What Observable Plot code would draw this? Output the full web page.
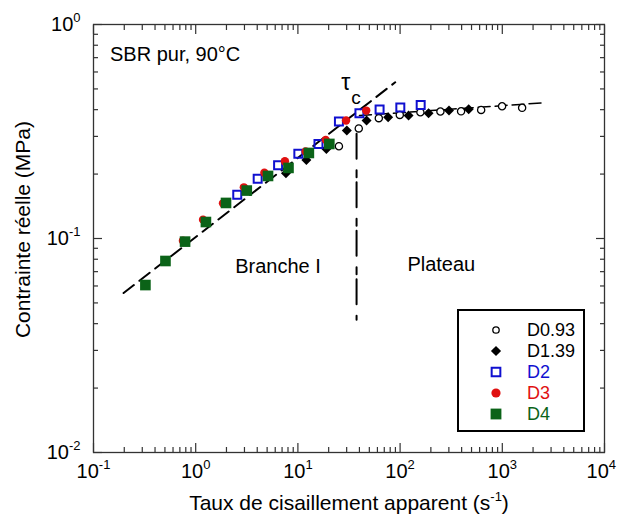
<!DOCTYPE html>
<html>
<head>
<meta charset="utf-8">
<script src="https://cdn.jsdelivr.net/npm/d3@7"></script>
<script src="https://cdn.jsdelivr.net/npm/@observablehq/plot@0.6"></script>
<style>
  body { margin: 0; background: #fff; }
  #wrap { position: relative; width: 617px; height: 515px; font-family: "Liberation Sans", Arial, sans-serif; }
  #legend { position: absolute; left: 457px; top: 309px; width: 128px; height: 123px; box-sizing: border-box; border: 2px solid #000; background: #fff; }
  #legend .row { position: absolute; left: 0; width: 124px; height: 20px; }
  #legend svg { position: absolute; left: 27px; top: 0; }
  #legend span { position: absolute; left: 68px; top: 0; font-size: 18px; line-height: 20px; white-space: nowrap; }
</style>
</head>
<body>
<div id="wrap"></div>
<script>
// ---- data ----
const seriesNames = ["D0.93", "D1.39", "D2", "D3", "D4"];
const xD093 = [25.2, 39.4, 61.9, 99.3, 158, 248, 395, 621, 995, 1563];
const yD093 = [0.270, 0.327, 0.365, 0.378, 0.389, 0.392, 0.393, 0.399, 0.415, 0.408];
const xD139 = [7.64, 12.1, 19.0, 30.1, 47.0, 76.4, 121, 190, 301, 469];
const yD139 = [0.2016, 0.2329, 0.2622, 0.3194, 0.3557, 0.3685, 0.3753, 0.3846, 0.396, 0.4017];
const xD2 = [2.55, 4.04, 6.4, 10.1, 15.9, 25.2, 40, 63, 100.5, 159];
const yD2 = [0.1603, 0.19, 0.2198, 0.2486, 0.2767, 0.3518, 0.3846, 0.4003, 0.409, 0.421];
const xD3 = [0.75, 1.18, 1.85, 2.96, 4.7, 7.46, 11.9, 18.7, 29.6, 46.6];
const yD3 = [0.0977, 0.1225, 0.146, 0.1734, 0.203, 0.2295, 0.255, 0.289, 0.356, 0.396];
const xD4 = [0.322, 0.506, 0.787, 1.259, 1.98, 3.16, 5.1, 8.09, 12.8, 20.3];
const yD4 = [0.0606, 0.0785, 0.0967, 0.1194, 0.1466, 0.1675, 0.196, 0.2137, 0.251, 0.2766];

// fitted lines
const branchX = [0.197, 89.6];
const branchY = [0.0556, 0.537];
const plateauX = [40, 2478];
const plateauY = [0.3754, 0.4303];
const tauCX = [37.5, 37.5];
const tauCY = [0.309, 0.0417];

// tick values
const xMajor = [0.1, 1, 10, 100, 1000, 10000];
const yMajor = [0.01, 0.1, 1];
const xMinor = [-1, 0, 1, 2, 3].flatMap(k => [2, 3, 4, 5, 6, 7, 8, 9].map(m => m * 10 ** k));
const yMinor = [-2, -1].flatMap(k => [2, 3, 4, 5, 6, 7, 8, 9].map(m => m * 10 ** k));

// texts
const xTitle = "Taux de cisaillement apparent (s^{-1})";
const yTitle = "Contrainte réelle (MPa)";
const sampleLabel = "SBR pur, 90°C";
const regionLabels = [
  {text: "Branche I", x: 6.39, y: 0.074},
  {text: "Plateau", x: 253, y: 0.0752}
];
const tauLabel = {text: "τ", x: 29.5, y: 0.535};
const tauSub = {text: "c", x: 37, y: 0.452};

// ---- build tables ----
const seriesX = [xD093, xD139, xD2, xD3, xD4];
const seriesY = [yD093, yD139, yD2, yD3, yD4];
const tables = seriesNames.map((name, i) => seriesX[i].map((x, j) => ({series: name, x, y: seriesY[i][j]})));
const pairs = (xs, ys) => xs.map((x, i) => ({x, y: ys[i]}));

// ---- styles ----
const BLUE = "#1010d0", RED = "#e01010", GREEN = "#0b6318";
const styles = [
  {symbol: "circle", r: 3.6, fill: "white", stroke: "black", strokeWidth: 1.3, text: "black", lr: 3.2},
  {symbol: "diamond2", r: 4.5, fill: "black", stroke: "none", strokeWidth: 0, text: "black", lr: 4.6},
  {symbol: "square", r: 4.5, fill: "none", stroke: BLUE, strokeWidth: 2, text: BLUE, lr: 4.9},
  {symbol: "circle", r: 4.2, fill: RED, stroke: "none", strokeWidth: 0, text: RED, lr: 4.6},
  {symbol: "square", r: 6, fill: GREEN, stroke: "none", strokeWidth: 0, text: GREEN, lr: 6.1}
];

const supFmt = d => "10^{" + Math.round(Math.log10(d)) + "}";
const TICK = "#333";

const plot = Plot.plot({
  width: 617,
  height: 515,
  marginLeft: 93,
  marginRight: 13,
  marginTop: 24,
  marginBottom: 63,
  style: {fontFamily: "'Liberation Sans', Arial, sans-serif", fontSize: "20px", color: "black", background: "white"},
  x: {type: "log", domain: [0.1, 10000]},
  y: {type: "log", domain: [0.01, 1]},
  marks: [
    // fit lines
    Plot.line(pairs(branchX, branchY), {x: "x", y: "y", stroke: "black", strokeWidth: 2, strokeDasharray: "13,7"}),
    Plot.line(pairs(plateauX, plateauY), {x: "x", y: "y", stroke: "black", strokeWidth: 1.5, strokeDasharray: "12,5"}),
    Plot.line(pairs(tauCX, tauCY), {x: "x", y: "y", stroke: "black", strokeWidth: 2, strokeDasharray: "25,11.5,7,5"}),
    // data points
    ...tables.map((t, i) => Plot.dot(t, {
      x: "x", y: "y", symbol: () => styles[i].symbol, r: styles[i].r,
      fill: styles[i].fill, stroke: styles[i].stroke, strokeWidth: styles[i].strokeWidth
    })),
    // tick labels
    Plot.axisX(xMajor, {anchor: "bottom", tickSize: 0, tickPadding: 11, tickFormat: supFmt, label: null, fontSize: 20}),
    Plot.axisY(yMajor, {anchor: "left", tickSize: 0, tickPadding: 13, tickFormat: supFmt, label: null, fontSize: 20}),
    // inward ticks on four sides
    Plot.axisX(xMajor, {anchor: "bottom", tickSize: 9, dy: -9, fill: "none", label: null, stroke: TICK, strokeWidth: 1.2}),
    Plot.axisX(xMinor, {anchor: "bottom", tickSize: 5, dy: -5, fill: "none", label: null, stroke: TICK, strokeWidth: 1.2}),
    Plot.axisX(xMajor, {anchor: "top", tickSize: 9, dy: 9, fill: "none", label: null, stroke: TICK, strokeWidth: 1.2}),
    Plot.axisX(xMinor, {anchor: "top", tickSize: 5, dy: 5, fill: "none", label: null, stroke: TICK, strokeWidth: 1.2}),
    Plot.axisY(yMajor, {anchor: "left", tickSize: 9, dx: 9, fill: "none", label: null, stroke: TICK, strokeWidth: 1.2}),
    Plot.axisY(yMinor, {anchor: "left", tickSize: 5, dx: 5, fill: "none", label: null, stroke: TICK, strokeWidth: 1.2}),
    Plot.axisY(yMajor, {anchor: "right", tickSize: 9, dx: -9, fill: "none", label: null, stroke: TICK, strokeWidth: 1.2}),
    Plot.axisY(yMinor, {anchor: "right", tickSize: 5, dx: -5, fill: "none", label: null, stroke: TICK, strokeWidth: 1.2}),
    Plot.frame({stroke: TICK, strokeWidth: 1.3}),
    // titles
    Plot.text([xTitle], {frameAnchor: "bottom", dy: 51, fontSize: 21, textAnchor: "middle", lineAnchor: "middle"}),
    Plot.text([yTitle], {frameAnchor: "left", rotate: -90, dx: -70.5, dy: -9, fontSize: 21, textAnchor: "middle", lineAnchor: "middle"}),
    Plot.text([sampleLabel], {frameAnchor: "top-left", dx: 16.5, dy: 22.7, fontSize: 20, textAnchor: "start", lineAnchor: "top"}),
    Plot.text(regionLabels, {x: "x", y: "y", text: "text", fontSize: 20, lineAnchor: "middle"}),
    Plot.text([tauLabel], {x: "x", y: "y", text: "text", fontSize: 23, lineAnchor: "middle"}),
    Plot.text([tauSub], {x: "x", y: "y", text: "text", fontSize: 19, lineAnchor: "middle"})
  ]
});

// superscripts: "a^{b}c" -> tspans
const NS = "http://www.w3.org/2000/svg";
plot.querySelectorAll("text").forEach(t => {
  const s = t.textContent;
  if (!s.includes("^{")) return;
  t.textContent = "";
  const rise = 9;
  let raised = false;
  s.split(/(\^\{[^}]*\})/).filter(p => p).forEach(p => {
    const ts = document.createElementNS(NS, "tspan");
    if (p.startsWith("^{")) {
      ts.textContent = p.slice(2, -1);
      ts.setAttribute("font-size", "13");
      ts.setAttribute("dy", -rise);
      raised = true;
    } else {
      ts.textContent = p;
      if (raised) { ts.setAttribute("dy", rise); raised = false; }
    }
    t.appendChild(ts);
  });
});

const wrap = document.getElementById("wrap");
wrap.appendChild(plot);

// keep texts inside the picture's right edge
const box = plot.getBoundingClientRect();
plot.querySelectorAll("text").forEach(t => {
  const r = t.getBoundingClientRect();
  const over = r.right - (box.left + 616);
  if (over > 0) t.setAttribute("dx", -over);
});

// legend
const legend = document.createElement("div");
legend.id = "legend";
seriesNames.forEach((name, i) => {
  const st = styles[i];
  const row = document.createElement("div");
  row.className = "row";
  row.style.top = (9 + i * 21) + "px";
  const svg = document.createElementNS(NS, "svg");
  svg.setAttribute("width", 20);
  svg.setAttribute("height", 20);
  const sym = {circle: d3.symbolCircle, square: d3.symbolSquare, diamond2: d3.symbolDiamond2}[st.symbol];
  const path = document.createElementNS(NS, "path");
  path.setAttribute("d", d3.symbol(sym, Math.PI * st.lr * st.lr)());
  path.setAttribute("transform", "translate(10,10)");
  path.setAttribute("fill", st.fill);
  path.setAttribute("stroke", st.stroke);
  path.setAttribute("stroke-width", st.strokeWidth);
  svg.appendChild(path);
  const span = document.createElement("span");
  span.textContent = name;
  span.style.color = st.text;
  row.appendChild(svg);
  row.appendChild(span);
  legend.appendChild(row);
});
wrap.appendChild(legend);
</script>
</body>
</html>
